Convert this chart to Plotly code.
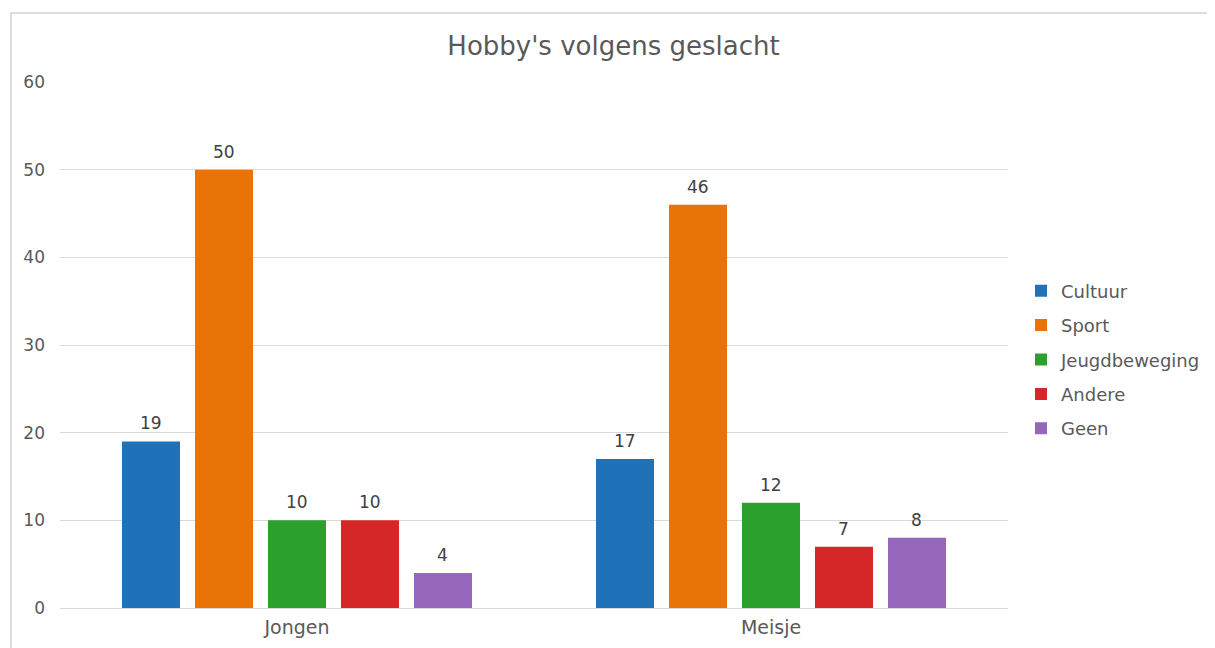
import plotly.graph_objects as go

categories = ["Jongen", "Meisje"]
series_names = ["Cultuur", "Sport", "Jeugdbeweging", "Andere", "Geen"]
cultuur = [19, 17]
sport = [50, 46]
jeugdbeweging = [10, 12]
andere = [10, 7]
geen = [4, 8]
y_ticks = [0, 10, 20, 30, 40, 50, 60]

series_values = [cultuur, sport, jeugdbeweging, andere, geen]
colors = ["#1f72b8", "#ea7307", "#2ca02c", "#d62728", "#9467bd"]

FONT = "DejaVu Sans"

# page body has an 8px margin; figure laid out in its own coordinates
W, H = 1207, 640
L, T, PW, PH = 52, 74, 948, 526
BARGAP, GROUPGAP = 0.23, 0.205
slot_px = PW / len(categories) * (1 - BARGAP) / len(series_names)

fig = go.Figure()
annotations = []
n = len(series_names)
for i, (name, vals, col) in enumerate(zip(series_names, series_values, colors)):
    fig.add_trace(go.Bar(
        x=categories, y=vals, name=name,
        marker=dict(color=col, line=dict(width=0)),
        legendgroup=name,
    ))
    for c, v in zip(categories, vals):
        annotations.append(dict(
            x=c, y=v, xref="x", yref="y", text=str(v), showarrow=False,
            xshift=(i - (n - 1) / 2) * slot_px, yshift=18, yanchor="middle",
            font=dict(family=FONT, size=17, color="#404040"),
        ))

fig.update_layout(
    width=W, height=H,
    paper_bgcolor="white", plot_bgcolor="white",
    font=dict(family=FONT, color="#595959"),
    margin=dict(l=L, r=W - L - PW, t=T, b=H - T - PH, autoexpand=False),
    barmode="group", bargap=BARGAP, bargroupgap=GROUPGAP,
    title=dict(text="Hobby's volgens geslacht", x=605.5 / W, xref="container", xanchor="center",
               y=1 - 38 / H, yref="container", yanchor="middle",
               font=dict(family=FONT, size=26, color="#595959")),
    legend=dict(x=(1013 - L) / PW, xanchor="left", y=(T + PH - 351.5) / PH, yanchor="middle",
                font=dict(family=FONT, size=18, color="#595959"),
                tracegroupgap=8, traceorder="grouped", itemclick=False),
    xaxis=dict(showline=False, ticks="", tickfont=dict(family=FONT, size=19, color="#595959"),
               ticklabelstandoff=6),
    yaxis=dict(range=[0, 60], tickvals=y_ticks, showline=False, ticks="",
               gridcolor="#d9d9d9", gridwidth=1, zeroline=True, zerolinecolor="#d9d9d9",
               zerolinewidth=1, tickfont=dict(family=FONT, size=17, color="#595959"),
               ticklabelstandoff=14),
    annotations=annotations,
    shapes=[dict(type="rect", xref="paper", yref="paper",
                 x0=(3 - L) / PW, x1=(1204 - L) / PW,
                 y0=(T + PH - 660) / PH, y1=(T + PH - 5) / PH,
                 line=dict(color="#dcdcdc", width=2), fillcolor="rgba(0,0,0,0)", layer="below")],
)

fig.write_html("out.html")
